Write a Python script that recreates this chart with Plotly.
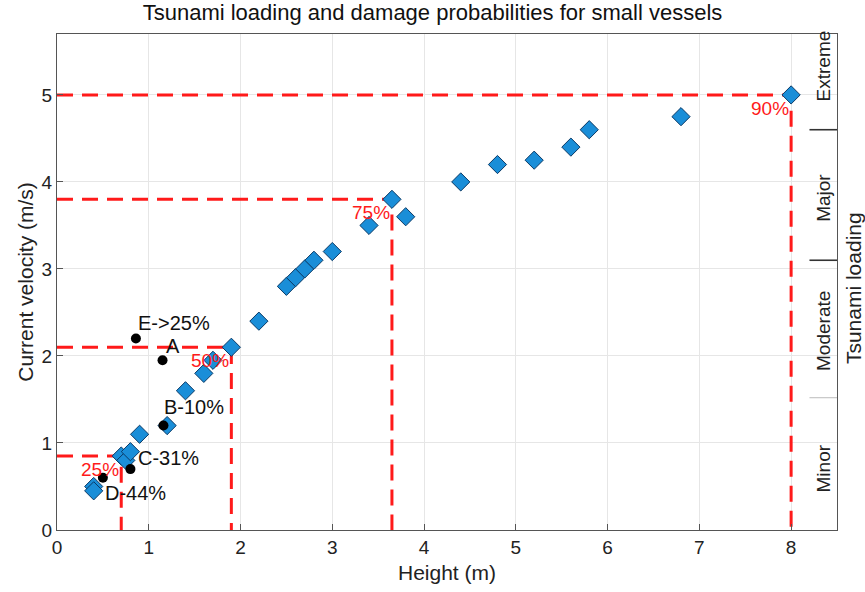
import plotly.graph_objects as go

# Tsunami loading samples (height vs. current velocity)
height_m = [0.4, 0.4, 0.7, 0.75, 0.8, 0.9, 1.2, 1.4, 1.6, 1.7, 1.9, 2.2, 2.5, 2.6, 2.7, 2.8,
            3.0, 3.4, 3.65, 3.8, 4.4, 4.8, 5.2, 5.6, 5.8, 6.8, 8.0]
velocity_ms = [0.5, 0.45, 0.85, 0.8, 0.9, 1.1, 1.2, 1.6, 1.8, 1.95, 2.1, 2.4, 2.8, 2.9, 3.0, 3.1,
               3.2, 3.5, 3.8, 3.6, 4.0, 4.2, 4.25, 4.4, 4.6, 4.75, 5.0]

# Observed vessel cases
case_names = ["E->25%", "A", "B-10%", "C-31%", "D-44%"]
case_height = [0.86, 1.15, 1.16, 0.8, 0.5]
case_velocity = [2.2, 1.95, 1.2, 0.7, 0.6]

# Damage probability thresholds
prob_labels = ["25%", "50%", "75%", "90%"]
prob_height = [0.7, 1.9, 3.65, 8.0]
prob_velocity = [0.85, 2.1, 3.8, 5.0]

# Loading classes on the right-hand band
load_classes = ["Minor", "Moderate", "Major", "Extreme"]
load_centres = [0.71, 2.29, 3.82, 5.33]
load_bounds = [1.52, 3.1, 4.6]

FONT = "Liberation Sans, Arial, Helvetica, sans-serif"
RED = "#ff1a1a"

fig = go.Figure()

# threshold guide lines
for h, v in zip(prob_height, prob_velocity):
    fig.add_trace(go.Scatter(
        x=[0, h, h], y=[v, v, 0], mode="lines",
        line=dict(color=RED, width=3, dash="16px,9px"),
        hoverinfo="skip", showlegend=False))

fig.add_trace(go.Scatter(
    x=height_m, y=velocity_ms, mode="markers",
    marker=dict(symbol="diamond", size=14, color="#1a8ed8",
                line=dict(color="#0b3a66", width=1)),
    showlegend=False))

fig.add_trace(go.Scatter(
    x=case_height, y=case_velocity, mode="markers",
    marker=dict(symbol="circle", size=10, color="black"),
    showlegend=False))

annotations = []
label_offsets = {"E->25%": (0, 16), "A": (1, 14), "B-10%": (-1, 19), "C-31%": (6, 11), "D-44%": (0, -15)}
for name, h, v in zip(case_names, case_height, case_velocity):
    dx, dy = label_offsets[name]
    annotations.append(dict(x=h, y=v, text=name, showarrow=False, xanchor="left",
                            yanchor="middle", xshift=dx, yshift=dy,
                            font=dict(family=FONT, size=20, color="#111")))

for lab, h, v in zip(prob_labels, prob_height, prob_velocity):
    annotations.append(dict(x=h, y=v, text=lab, showarrow=False, xanchor="right",
                            yanchor="top", xshift=0, yshift=-1,
                            font=dict(family=FONT, size=19, color=RED)))

for lab, c in zip(load_classes, load_centres):
    annotations.append(dict(x=8.35, y=c, text=lab, showarrow=False, textangle=-90,
                            xanchor="center", yanchor="middle",
                            font=dict(family=FONT, size=19, color="#222")))

annotations.append(dict(xref="paper", yref="y", x=1.0, y=2.78, xshift=16,
                        xanchor="center", yanchor="middle",
                        text="Tsunami loading", showarrow=False, textangle=-90,
                        font=dict(family=FONT, size=21, color="#222")))

shapes = []
for i, b in enumerate(load_bounds):
    col = "#bbbbbb" if i == 0 else "#333333"
    wid = 1 if i == 0 else 1.6
    shapes.append(dict(type="line", xref="x", yref="y", x0=8.2, x1=8.5, y0=b, y1=b,
                       line=dict(color=col, width=wid)))

fig.update_layout(
    width=865, height=592,
    margin=dict(l=57, r=28, t=34, b=60),
    paper_bgcolor="white", plot_bgcolor="white",
    title=dict(text="Tsunami loading and damage probabilities for small vessels",
               x=0.5, xanchor="center", y=0.992, yanchor="top",
               font=dict(family=FONT, size=22, color="#111")),
    xaxis=dict(range=[0, 8.5], tickvals=list(range(0, 9)), title=dict(text="Height (m)", standoff=8,
               font=dict(family=FONT, size=21, color="#222")),
               showgrid=True, gridcolor="#e6e6e6", zeroline=False,
               showline=True, linecolor="#555", mirror=True, ticks="inside", ticklen=6,
               tickcolor="#555", tickfont=dict(family=FONT, size=19, color="#222")),
    yaxis=dict(range=[0, 5.7], tickvals=list(range(0, 6)), title=dict(text="Current velocity (m/s)", standoff=2,
               font=dict(family=FONT, size=21, color="#222")),
               showgrid=True, gridcolor="#e6e6e6", zeroline=False,
               showline=True, linecolor="#555", mirror=True, ticks="inside", ticklen=6,
               tickcolor="#555", tickfont=dict(family=FONT, size=19, color="#222")),
    annotations=annotations,
    shapes=shapes,
)

fig.write_html("out.html")
